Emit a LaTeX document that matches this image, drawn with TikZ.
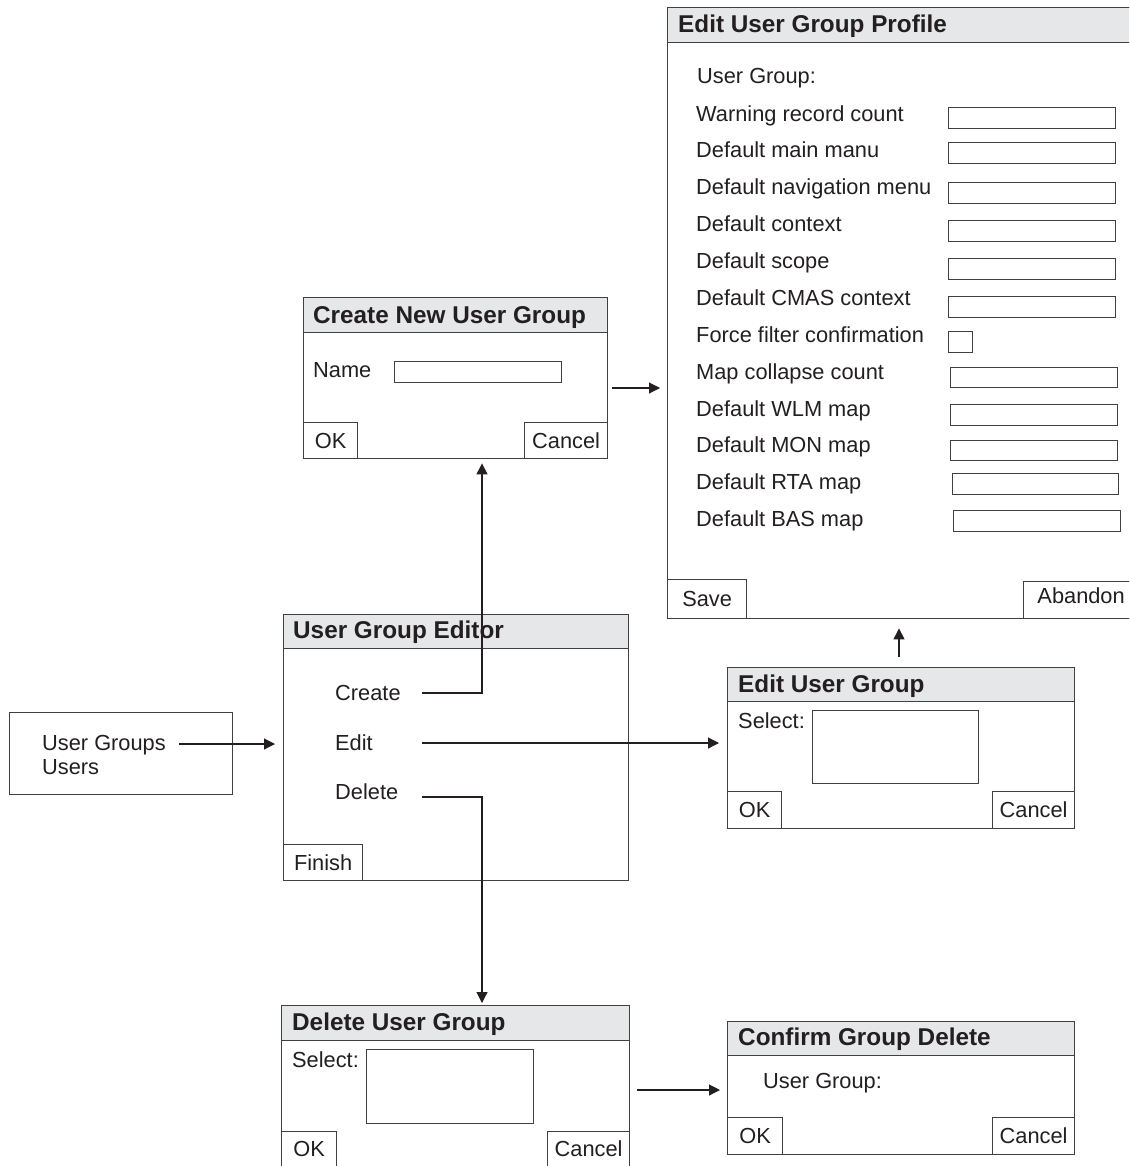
\documentclass[tikz,border=0pt]{standalone}
\usepackage{fontspec}
\setmainfont{Liberation Sans}
\usetikzlibrary{arrows.meta}
\definecolor{ln}{HTML}{404040}
\definecolor{bar}{HTML}{E6E7E8}
\definecolor{ink}{HTML}{231F20}
\newcommand{\bodyfnt}{\fontsize{21.8}{26}\selectfont}
\newcommand{\ttlfnt}{\fontsize{24.3}{29}\selectfont\bfseries}
\tikzset{
 win/.style={draw=ln, line width=1.4pt, fill=white, rectangle, inner sep=0pt, anchor=north west},
 tbar/.style={draw=ln, line width=1.4pt, fill=bar, rectangle, inner sep=0pt, anchor=north west},
 fld/.style={draw=ln, line width=1.2pt, rectangle, inner sep=0pt, anchor=north west},
 btn/.style={draw=ln, line width=1.2pt, rectangle, inner sep=0pt, anchor=north west, font=\bodyfnt, text=ink, text height=15.7pt, text depth=0pt},
 txt/.style={inner sep=0pt, anchor=base west, font=\bodyfnt, text=ink},
 ttl/.style={inner sep=0pt, anchor=base west, font=\ttlfnt, text=ink},
 conn/.style={draw=ink, line width=1.1pt},
 arr/.style={conn, -{Triangle[length=11pt,width=11pt]}},
}
\begin{document}
\begin{tikzpicture}[x=1pt,y=-1pt]
\useasboundingbox (0,0) rectangle (1129,1166);
\clip (0,0) rectangle (1129,1166);

% ---------- Edit User Group Profile ----------
\node[win, minimum width=480pt, minimum height=611pt] (prof) at (667,7) {};
\node[tbar, minimum width=480pt, minimum height=35pt] (profbar) at (667,7) {};
\node[ttl] (proft) at (678,33) {Edit User Group Profile};
\node[txt] (p0) at (697,84) {User Group:};
\node[txt] (p1) at (696,122) {Warning record count};
\node[txt] (p2) at (696,158) {Default main manu};
\node[txt] (p3) at (696,195) {Default navigation menu};
\node[txt] (p4) at (696,232) {Default context};
\node[txt] (p5) at (696,268) {Default scope};
\node[txt] (p6) at (696,305) {Default CMAS context};
\node[txt] (p7) at (696,342) {Force filter confirmation};
\node[txt] (p8) at (696,379) {Map collapse count};
\node[txt] (p9) at (696,416) {Default WLM map};
\node[txt] (p10) at (696,452) {Default MON map};
\node[txt] (p11) at (696,489) {Default RTA map};
\node[txt] (p12) at (696,526) {Default BAS map};
\foreach \n/\x/\y/\w/\h in {1/948/107/167/21, 2/948/142/167/21, 3/948/182/167/21, 4/948/220/167/21,
  5/948/258/167/21, 6/948/296/167/21, 7/948/331/24/21, 8/950/367/167/20, 9/950/404/167/21,
  10/950/440/167/20, 11/952/473/166/21, 12/953/510/167/21}
  \node[fld, minimum width=\w pt, minimum height=\h pt] (f\n) at (\x,\y) {};
\node[btn, minimum width=79pt, minimum height=39pt] (psave) at (667,579) {Save};
\node[btn, minimum width=115pt, minimum height=37pt, text depth=8pt] (pab) at (1023,581) {Abandon};

% ---------- Create New User Group ----------
\node[win, minimum width=304pt, minimum height=161pt] (cnew) at (303,297) {};
\node[tbar, minimum width=304pt, minimum height=35pt] (cnewbar) at (303,297) {};
\node[ttl] (cnewt) at (313,323) {Create New User Group};
\node[txt] (cname) at (313,377) {Name};
\node[fld, minimum width=167pt, minimum height=21pt] (cfield) at (394,361) {};
\node[btn, minimum width=54pt, minimum height=36pt] (cok) at (303,422) {OK};
\node[btn, minimum width=83pt, minimum height=36pt] (ccan) at (524,422) {Cancel};

% ---------- User Groups / Users ----------
\node[win, minimum width=223pt, minimum height=82pt] (ugbox) at (9,712) {};
\node[txt] (ugs) at (42,750) {User Groups};
\node[txt] (us) at (42,774) {Users};

% ---------- User Group Editor ----------
\node[win, minimum width=345pt, minimum height=266pt] (ed) at (283,614) {};
\node[tbar, minimum width=345pt, minimum height=34pt] (edbar) at (283,614) {};
\node[ttl] (edt) at (293,638) {User Group Editor};
\node[txt] (create) at (335,700) {Create};
\node[txt] (edit) at (335,750) {Edit};
\node[txt] (delete) at (335,799) {Delete};
\node[btn, minimum width=79pt, minimum height=36pt] (fin) at (283,844) {Finish};

% ---------- Edit User Group ----------
\node[win, minimum width=347pt, minimum height=161pt] (eug) at (727,667) {};
\node[tbar, minimum width=347pt, minimum height=34pt] (eugbar) at (727,667) {};
\node[ttl] (eugt) at (738,692) {Edit User Group};
\node[txt] (esel) at (738,728) {Select:};
\node[fld, minimum width=166pt, minimum height=73pt] (elist) at (812,710) {};
\node[btn, minimum width=54pt, minimum height=37pt] (eok) at (727,791) {OK};
\node[btn, minimum width=82pt, minimum height=37pt] (ecan) at (992,791) {Cancel};

% ---------- Delete User Group ----------
\node[win, minimum width=348pt, minimum height=165pt] (dug) at (281,1005) {};
\node[tbar, minimum width=348pt, minimum height=35pt] (dugbar) at (281,1005) {};
\node[ttl] (dugt) at (292,1030) {Delete User Group};
\node[txt] (dsel) at (292,1067) {Select:};
\node[fld, minimum width=167pt, minimum height=74pt] (dlist) at (366,1049) {};
\node[btn, minimum width=55pt, minimum height=35pt] (dok) at (281,1131) {OK};
\node[btn, minimum width=82pt, minimum height=35pt] (dcan) at (547,1131) {Cancel};

% ---------- Confirm Group Delete ----------
\node[win, minimum width=347pt, minimum height=133pt] (conf) at (727,1021) {};
\node[tbar, minimum width=347pt, minimum height=34pt] (confbar) at (727,1021) {};
\node[ttl] (conft) at (738,1045) {Confirm Group Delete};
\node[txt] (cug) at (763,1088) {User Group:};
\node[btn, minimum width=55pt, minimum height=37pt] (cfok) at (727,1117) {OK};
\node[btn, minimum width=82pt, minimum height=37pt] (cfcan) at (992,1117) {Cancel};

% ---------- connectors ----------
\coordinate (vx) at (482,0);
\coordinate (c0) at (422,693);
\coordinate (e0) at (422,743);
\coordinate (d0) at (422,797);
\coordinate (u0) at (179,744);
\coordinate (cn0) at (612,388);
\coordinate (dc0) at (637,1090);
\coordinate (eg0) at (899,657);

\draw[arr] (u0) -- ([xshift=-8pt]u0 -| ed.west);
\draw[arr] (c0) -- (c0 -| vx) -- ([yshift=-4pt]vx |- cnew.south);
\draw[arr] (e0) -- ([xshift=-8pt]e0 -| eug.west);
\draw[arr] (d0) -- (d0 -| vx) -- ([yshift=2pt]vx |- dug.north);
\draw[arr] (cn0) -- ([xshift=-7pt]cn0 -| prof.west);
\draw[arr] (dc0) -- ([xshift=-7pt]dc0 -| conf.west);
\draw[arr] (eg0) -- ([yshift=-9pt]eg0 |- prof.south);
\end{tikzpicture}
\end{document}
